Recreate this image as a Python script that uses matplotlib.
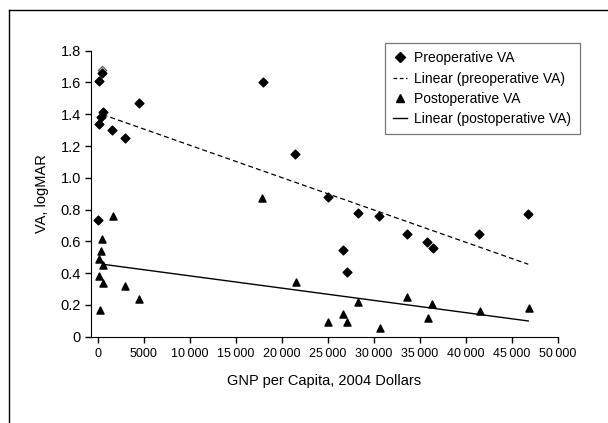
import matplotlib.pyplot as plt
from matplotlib.lines import Line2D
from matplotlib.ticker import FuncFormatter

plt.rcParams['font.family'] = ['Liberation Sans', 'DejaVu Sans']

# GNP per capita (2004 dollars) and VA (logMAR)
pre_x = [200, 520, 565, 380, 200, 1610, 2990, 4510, 54, 18020, 21500, 25050,
         28350, 30630, 26650, 27120, 33670, 35815, 36430, 41500, 46720]
pre_y = [1.609, 1.661, 1.416, 1.381, 1.337, 1.299, 1.249, 1.471, 0.734, 1.603, 1.152, 0.879,
         0.776, 0.760, 0.548, 0.405, 0.646, 0.596, 0.558, 0.646, 0.770]
pre_ghost_x = [520]
pre_ghost_y = [1.678]

post_x = [17880, 1685, 490, 345, 130, 600, 160, 565, 270, 2990, 4475, 21575, 25050,
          26650, 27085, 28350, 30670, 33670, 35890, 36360, 41610, 46870]
post_y = [0.872, 0.757, 0.618, 0.539, 0.486, 0.449, 0.383, 0.337, 0.169, 0.316, 0.236, 0.345, 0.094,
          0.146, 0.092, 0.218, 0.056, 0.251, 0.115, 0.205, 0.159, 0.178]

# linear trendlines (as drawn)
fit_x = [560, 46800]
pre_fit_y = [1.398, 0.456]
post_fit_y = [0.456, 0.099]

fig = plt.figure(figsize=(6.08, 4.23), dpi=100)
ax = fig.add_axes([90.7 / 608, 1 - 336.7 / 423, (557.7 - 90.7) / 608, (336.7 - 50.7) / 423])

ax.scatter(pre_ghost_x, pre_ghost_y, marker='D', s=18, facecolor='#dddddd', edgecolor='#555555', linewidths=0.8, zorder=2)
ax.scatter(pre_x, pre_y, marker='D', s=20, color='black', zorder=3)
ax.scatter(post_x, post_y, marker='^', s=26, color='black', zorder=3)
ax.plot(fit_x, pre_fit_y, color='black', linestyle=(0, (4, 2.5)), linewidth=0.9)
ax.plot(fit_x, post_fit_y, color='black', linestyle='-', linewidth=1.0)

ax.set_xlim(-740, 50000)
ax.set_ylim(0, 1.8)
ax.set_xticks(range(0, 50001, 5000))
ax.set_yticks([0, 0.2, 0.4, 0.6, 0.8, 1.0, 1.2, 1.4, 1.6, 1.8])
ax.xaxis.set_major_formatter(FuncFormatter(lambda v, p: f'{int(v)}' if v < 10000 else f'{int(v) // 1000}\u2009{int(v) % 1000:03d}'))
ax.yaxis.set_major_formatter(FuncFormatter(lambda v, p: '0' if v == 0 else f'{v:.1f}'))
for s in ['top', 'right']:
    ax.spines[s].set_visible(False)
ax.tick_params(axis='x', labelsize=9, direction='out', length=4, width=1, pad=4)
ax.tick_params(axis='y', labelsize=10.5, direction='out', length=4, width=1, pad=3)
ax.set_xlabel('GNP per Capita, 2004 Dollars', fontsize=10.5, labelpad=10)
ax.set_ylabel('VA, logMAR', fontsize=10.5, labelpad=8)

handles = [
    Line2D([], [], marker='D', color='black', linestyle='none', markersize=5),
    Line2D([], [], color='black', linestyle=(0, (3, 2)), linewidth=0.9),
    Line2D([], [], marker='^', color='black', linestyle='none', markersize=5.5),
    Line2D([], [], color='black', linestyle='-', linewidth=1.0),
]
labels = ['Preoperative VA', 'Linear (preoperative VA)', 'Postoperative VA', 'Linear (postoperative VA)']
leg = fig.legend(handles, labels, loc='upper left', bbox_to_anchor=(385 / 608, 1 - 43 / 423),
                 borderaxespad=0, fontsize=10, frameon=True, fancybox=False, edgecolor='#555555',
                 handlelength=1.0, handletextpad=0.5, labelspacing=0.45, borderpad=0.6)
leg.get_frame().set_linewidth(0.9)

# outer frame lines (top and left)
fig.add_artist(Line2D([9 / 608, 1], [1 - 10 / 423, 1 - 10 / 423], transform=fig.transFigure, color='black', linewidth=1))
fig.add_artist(Line2D([9 / 608, 9 / 608], [0, 1 - 10 / 423], transform=fig.transFigure, color='black', linewidth=1))

fig.savefig('out.png', dpi=100)
